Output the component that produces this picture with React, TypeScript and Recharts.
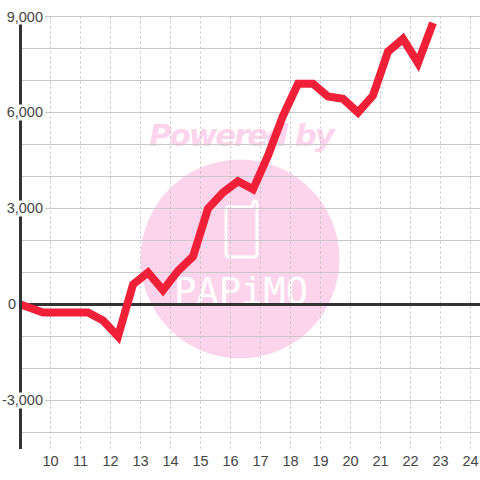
import { LineChart, Line, XAxis, YAxis, CartesianGrid, ReferenceLine } from 'recharts';

const hours = [9, 9.75, 10.25, 10.75, 11.25, 11.75, 12.25, 12.75, 13.25, 13.75, 14.25, 14.75, 15.25, 15.75, 16.25, 16.75, 17.25, 17.75, 18.25, 18.75, 19.25, 19.75, 20.25, 20.75, 21.25, 21.75, 22.25, 22.75];
const values = [0, -250, -250, -250, -250, -500, -1000, 625, 1000, 450, 1050, 1500, 3000, 3500, 3850, 3600, 4650, 5900, 6900, 6900, 6500, 6430, 6000, 6530, 7900, 8300, 7550, 8800];
const hourTicks = [10, 11, 12, 13, 14, 15, 16, 17, 18, 19, 20, 21, 22, 23, 24];
const valueTicks = [-4000, -3000, -2000, -1000, 0, 1000, 2000, 3000, 4000, 5000, 6000, 7000, 8000, 9000];
const labelledTicks = [-3000, 0, 3000, 6000, 9000];

const data = hours.map((h, i) => ({ hour: h, value: values[i] }));

function ValueTick(props: any) {
    const v = props.payload.value;
    if (!labelledTicks.includes(v)) return null;
    if (v === 0) {
        return <text x={16} y={props.y + 5} textAnchor="end" fontSize={14.5} fill="#444">0</text>;
    }
    return <g>
        <rect x={2} y={props.y - 8} width={43} height={16} fill="#fff"/>
        <text x={43} y={props.y + 5} textAnchor="end" fontSize={14.5} fill="#444">{v.toLocaleString('en-US')}</text>
    </g>;
}

function Watermark() {
    return <svg width={480} height={480} style={{position: 'absolute', left: 0, top: 0}}>
        <circle cx={240} cy={259} r={99.5} fill="#fcd5ec"/>
        <text x={242} y={146} textAnchor="middle" fontSize={31} fontWeight="bold" fontStyle="italic" fill="#fcd5ec" fontFamily="'DejaVu Sans'" textLength={186}>Powered by</text>
        <path d="M229 207 H250 Q253 207 253 204 Q253 201 255 201 Q257 201 257 204 V253 Q257 257 253 257 H230 Q226 257 226 253 V210 Q226 207 229 207 Z" fill="none" stroke="#fff" strokeWidth={3}/>
        <text x={241} y={304} textAnchor="middle" fontSize={38} fill="#fff" fontFamily="'DejaVu Sans Mono'" textLength={134} lengthAdjust="spacingAndGlyphs">PAPiMO</text>
    </svg>;
}

export default function App() {
    return <div style={{position: 'absolute', left: 0, top: 0, width: 480, height: 480, background: '#fff', fontFamily: "'Liberation Sans'"}}>
        <Watermark/>
        <div style={{position: 'absolute', left: 0, top: 0}}>
            <LineChart width={480} height={480} data={data} margin={{top: 16.5, right: 0, left: 0.5, bottom: 0}}>
                <CartesianGrid stroke="#c8c8c8" horizontalValues={valueTicks} vertical={false}/>
                <CartesianGrid stroke="#c0c0c0" strokeDasharray="2 3" verticalValues={hourTicks} horizontal={false}/>
                <XAxis dataKey="hour" type="number" domain={[9, 24.317]} ticks={hourTicks} allowDataOverflow height={31}
                       axisLine={false} tickLine={false} interval={0}
                       tick={{fontSize: 14.5, fill: '#444'}} tickMargin={1}/>
                <YAxis type="number" domain={[-4516, 9000]} ticks={valueTicks} width={20} interval={0} allowDataOverflow
                       axisLine={{stroke: '#333', strokeWidth: 3}} tickLine={false} tick={<ValueTick/>}/>
                <ReferenceLine y={0} stroke="#333" strokeWidth={3}/>
                <Line dataKey="value" stroke="#ef2038" strokeWidth={8} dot={false} type="linear" isAnimationActive={false}/>
            </LineChart>
        </div>
    </div>;
}
